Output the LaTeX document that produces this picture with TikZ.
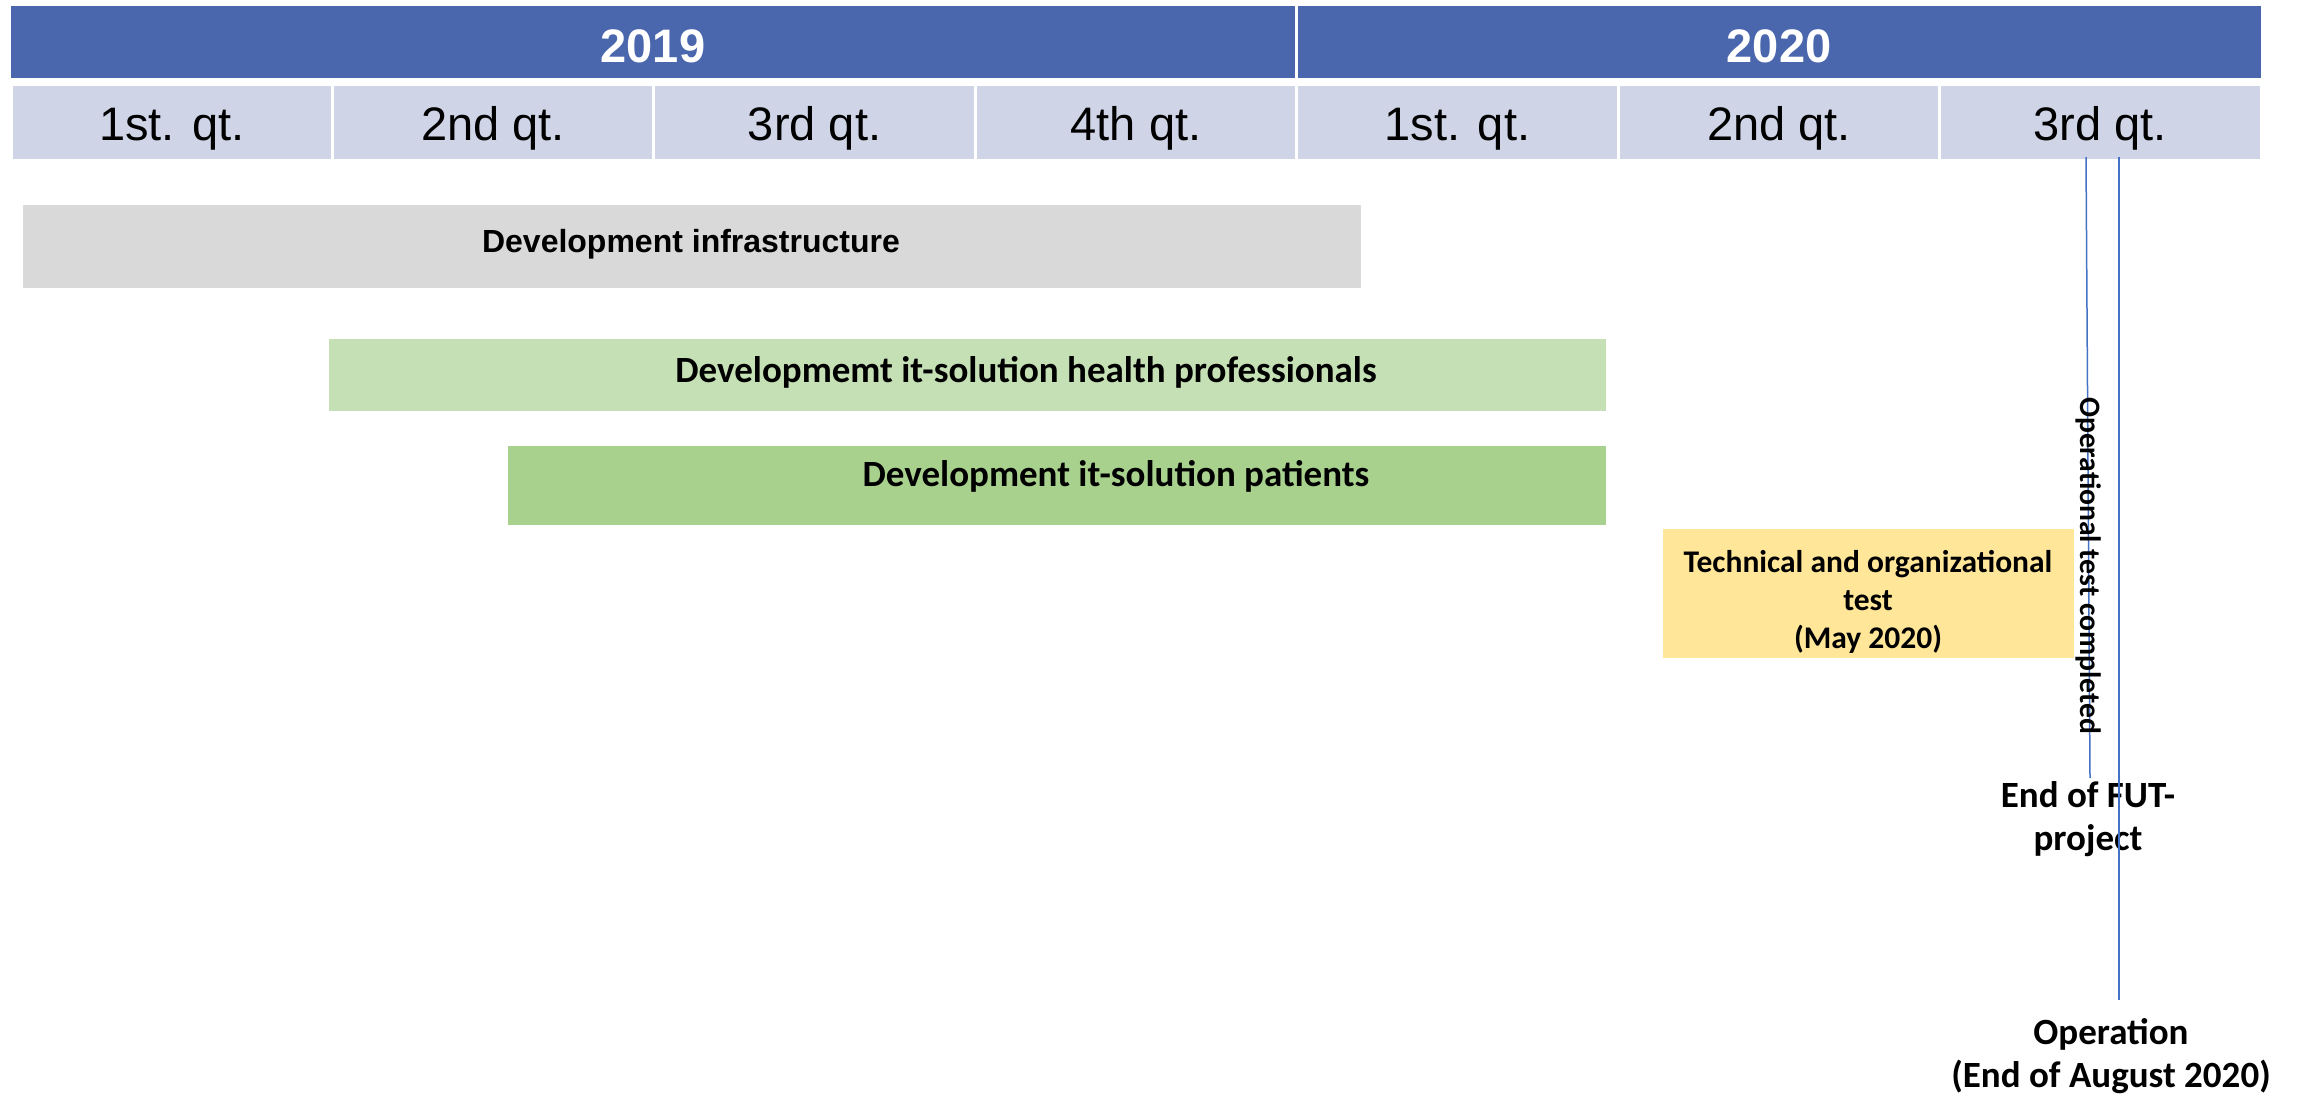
\documentclass[tikz,border=0pt]{standalone}
\usepackage{fontspec}
\setmainfont{Liberation Sans}
\newfontfamily\calfont{Carlito}
\definecolor{hdrblue}{RGB}{74,103,174}
\definecolor{qtrfill}{RGB}{207,213,230}
\definecolor{barGrey}{RGB}{217,217,217}
\definecolor{barLight}{RGB}{197,224,180}
\definecolor{barDark}{RGB}{169,209,142}
\definecolor{barYellow}{RGB}{255,230,153}
\definecolor{msline}{RGB}{68,114,196}
\begin{document}
\begin{tikzpicture}[x=1pt,y=-1pt,
  cell/.style={inner sep=0pt, outer sep=0pt, minimum height=73pt, minimum width=318.4pt, fill=qtrfill, draw=none},
  yearcell/.style={inner sep=0pt, outer sep=0pt, minimum height=72pt, fill=hdrblue, anchor=north west},
  yeartext/.style={font=\bfseries\fontsize{47}{56}\selectfont, text=white, inner sep=0pt, anchor=base},
  qtext/.style={font=\fontsize{47}{56}\selectfont, inner sep=0pt, anchor=base},
  bar/.style={inner sep=0pt, outer sep=0pt, anchor=north west, draw=none},
  bartextA/.style={font=\bfseries\fontsize{32}{38}\selectfont, inner sep=0pt, anchor=base},
  bartextB/.style={font=\calfont\bfseries\fontsize{37}{44}\selectfont, inner sep=0pt, anchor=base},
  boxtext/.style={font=\calfont\bfseries\fontsize{31.5}{38}\selectfont, inner sep=0pt, anchor=base, align=center},
  labtext/.style={font=\calfont\bfseries\fontsize{37}{43}\selectfont, inner sep=0pt, anchor=base, align=center},
  rottext/.style={font=\calfont\bfseries\fontsize{29.6}{36}\selectfont, inner sep=0pt, rotate=-90},
  msA/.style={draw=msline, line width=1.5pt},
  msB/.style={draw=msline, line width=2pt}
]
\useasboundingbox[fill=white] (0,0) rectangle (2302,1096);

% year header
\node[yearcell, minimum width=1284pt] (y2019) at (11,6) {};
\node[yearcell, minimum width=963pt] (y2020) at (1298,6) {};
\node[yeartext] (t2019) at (653,62) {2019};
\node[yeartext] (t2020) at (1779,62) {2020};

% quarter row
\foreach \i/\lab in {1/1st. qt.,2/2nd qt.,3/3rd qt.,4/4th qt.,5/1st. qt.,6/2nd qt.,7/3rd qt.}{
  \pgfmathsetmacro\cx{11+(\i-0.5)*321.43}
  \node[cell] (q\i) at (\cx,122.5) {};
  \node[qtext] (qt\i) at (\cx,140) {\lab};
}

% bars
\node[bar, fill=barGrey, minimum width=1338pt, minimum height=83pt] (infra) at (23,205) {};
\node[bartextA] (infraT) at (691,252) {Development infrastructure};

\node[bar, fill=barLight, minimum width=1277pt, minimum height=72pt] (hp) at (329,339) {};
\node[bartextB] (hpT) at (1026,382) {Developmemt it-solution health professionals};

\node[bar, fill=barDark, minimum width=1098pt, minimum height=79pt] (pat) at (508,446) {};
\node[bartextB] (patT) at (1116,486) {Development it-solution patients};

\node[bar, fill=barYellow, minimum width=411pt, minimum height=129pt] (test) at (1663,529) {};
\node[boxtext] (testT) at (1868,648) {Technical and organizational\\test\\(May 2020)};

% milestones
\coordinate (mA) at (2086,157);
\coordinate (mB) at (2119,157);
\node[labtext] (fut) at (2088,850) {End of FUT-\\project};
\node[labtext] (oper) at (2111,1087) {Operation\\(End of August 2020)};
\coordinate (mAend) at (2090,778);
\coordinate (mBend) at (2119,1000);
\draw[msA] (mA) -- (mAend);
\draw[msB] (mB) -- (mBend);
\node[rottext] (optest) at (2089,565.5) {Operational test completed};
\end{tikzpicture}
\end{document}
